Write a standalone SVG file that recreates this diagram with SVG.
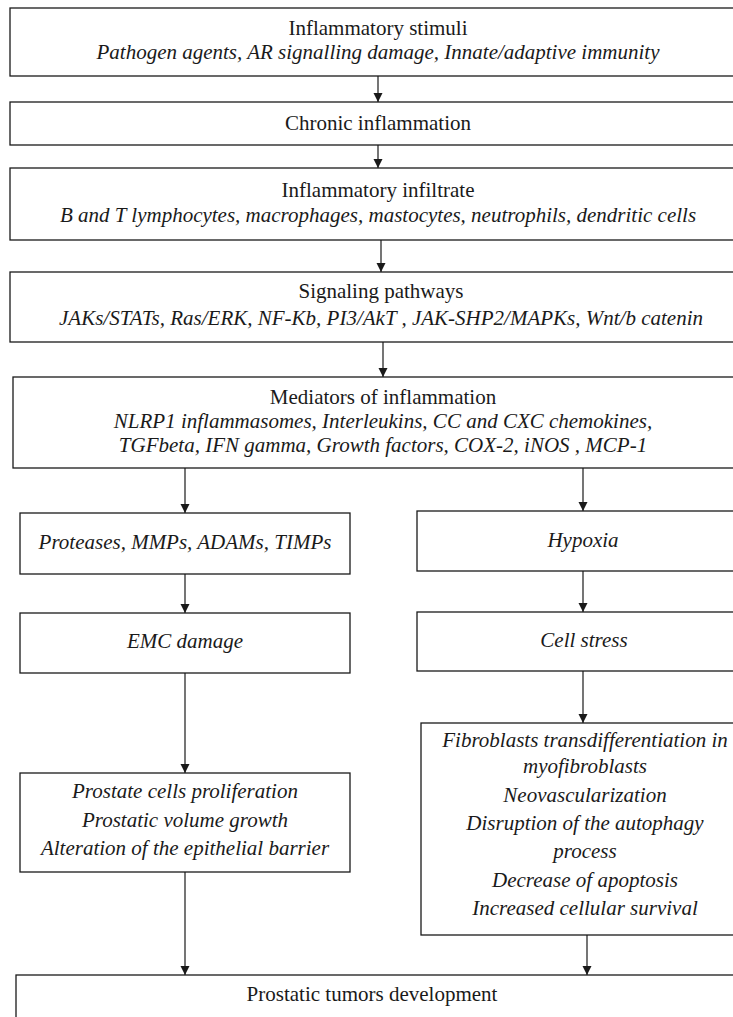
<svg xmlns="http://www.w3.org/2000/svg" width="733" height="1017" viewBox="0 0 733 1017">
<style>
  rect { fill: #ffffff; stroke: #1a1a1a; stroke-width: 1.3; }
  text { font-family: "Liberation Serif", "Times New Roman", serif; font-size: 21px; fill: #1a1a1a; text-anchor: middle; }
  .i { font-style: italic; }
  .c line { stroke: #1a1a1a; stroke-width: 1.2; }
</style>
<defs>
  <marker id="ah" viewBox="0 0 10 10" refX="10" refY="5" markerWidth="9" markerHeight="11" markerUnits="userSpaceOnUse" orient="auto">
    <path d="M0,0 L10,5 L0,10 Z" fill="#1a1a1a"/>
  </marker>
</defs>
<rect x="0" y="0" width="733" height="1017" style="stroke:none"/>
<g class="c" id="connectors">
  <line x1="378" y1="76" x2="378" y2="102" marker-end="url(#ah)"/>
  <line x1="378" y1="145" x2="378" y2="168" marker-end="url(#ah)"/>
  <line x1="381" y1="240" x2="381" y2="272" marker-end="url(#ah)"/>
  <line x1="383" y1="342" x2="383" y2="377" marker-end="url(#ah)"/>
  <line x1="185" y1="468" x2="185" y2="513" marker-end="url(#ah)"/>
  <line x1="583" y1="468" x2="583" y2="511" marker-end="url(#ah)"/>
  <line x1="185" y1="574" x2="185" y2="613" marker-end="url(#ah)"/>
  <line x1="583" y1="571" x2="583" y2="612" marker-end="url(#ah)"/>
  <line x1="185" y1="673" x2="185" y2="773" marker-end="url(#ah)"/>
  <line x1="583" y1="671" x2="583" y2="723" marker-end="url(#ah)"/>
  <line x1="185" y1="872" x2="185" y2="975" marker-end="url(#ah)"/>
  <line x1="587" y1="935" x2="587" y2="975" marker-end="url(#ah)"/>
</g>
<g id="n1">
  <rect x="10" y="8" width="740" height="68"/>
  <text x="378" y="35">Inflammatory stimuli</text>
  <text x="378" y="59" class="i">Pathogen agents, AR signalling damage, Innate/adaptive immunity</text>
</g>
<g id="n2">
  <rect x="10" y="102" width="740" height="43"/>
  <text x="378" y="130">Chronic inflammation</text>
</g>
<g id="n3">
  <rect x="10" y="168" width="740" height="72"/>
  <text x="378" y="197">Inflammatory infiltrate</text>
  <text x="378" y="222" class="i">B and T lymphocytes, macrophages, mastocytes, neutrophils, dendritic cells</text>
</g>
<g id="n4">
  <rect x="10" y="272" width="740" height="70"/>
  <text x="381" y="298">Signaling pathways</text>
  <text x="381" y="325" class="i">JAKs/STATs, Ras/ERK, NF-Kb, PI3/AkT , JAK-SHP2/MAPKs, Wnt/b catenin</text>
</g>
<g id="n5">
  <rect x="13" y="377" width="740" height="91"/>
  <text x="383" y="404">Mediators of inflammation</text>
  <text x="383" y="428" class="i">NLRP1 inflammasomes, Interleukins, CC and CXC chemokines,</text>
  <text x="383" y="452" class="i">TGFbeta, IFN gamma, Growth factors, COX-2, iNOS , MCP-1</text>
</g>
<g id="n6">
  <rect x="20" y="513" width="330" height="61"/>
  <text x="185" y="549" class="i">Proteases, MMPs, ADAMs, TIMPs</text>
</g>
<g id="n7">
  <rect x="417" y="511" width="330" height="60"/>
  <text x="583" y="547" class="i">Hypoxia</text>
</g>
<g id="n8">
  <rect x="20" y="613" width="330" height="60"/>
  <text x="185" y="648" class="i">EMC damage</text>
</g>
<g id="n9">
  <rect x="417" y="612" width="330" height="59"/>
  <text x="584" y="647" class="i">Cell stress</text>
</g>
<g id="n10">
  <rect x="20" y="773" width="330" height="99"/>
  <text x="185" y="798" class="i">Prostate cells proliferation</text>
  <text x="185" y="827" class="i">Prostatic volume growth</text>
  <text x="185" y="855" class="i">Alteration of the epithelial barrier</text>
</g>
<g id="n11">
  <rect x="421" y="723" width="330" height="212"/>
  <text x="585" y="747" class="i">Fibroblasts transdifferentiation in</text>
  <text x="585" y="773" class="i">myofibroblasts</text>
  <text x="585" y="802" class="i">Neovascularization</text>
  <text x="585" y="830" class="i">Disruption of the autophagy</text>
  <text x="585" y="858" class="i">process</text>
  <text x="585" y="887" class="i">Decrease of apoptosis</text>
  <text x="585" y="915" class="i">Increased cellular survival</text>
</g>
<g id="n12">
  <rect x="16" y="975" width="740" height="60"/>
  <text x="372" y="1001">Prostatic tumors development</text>
</g>
</svg>
